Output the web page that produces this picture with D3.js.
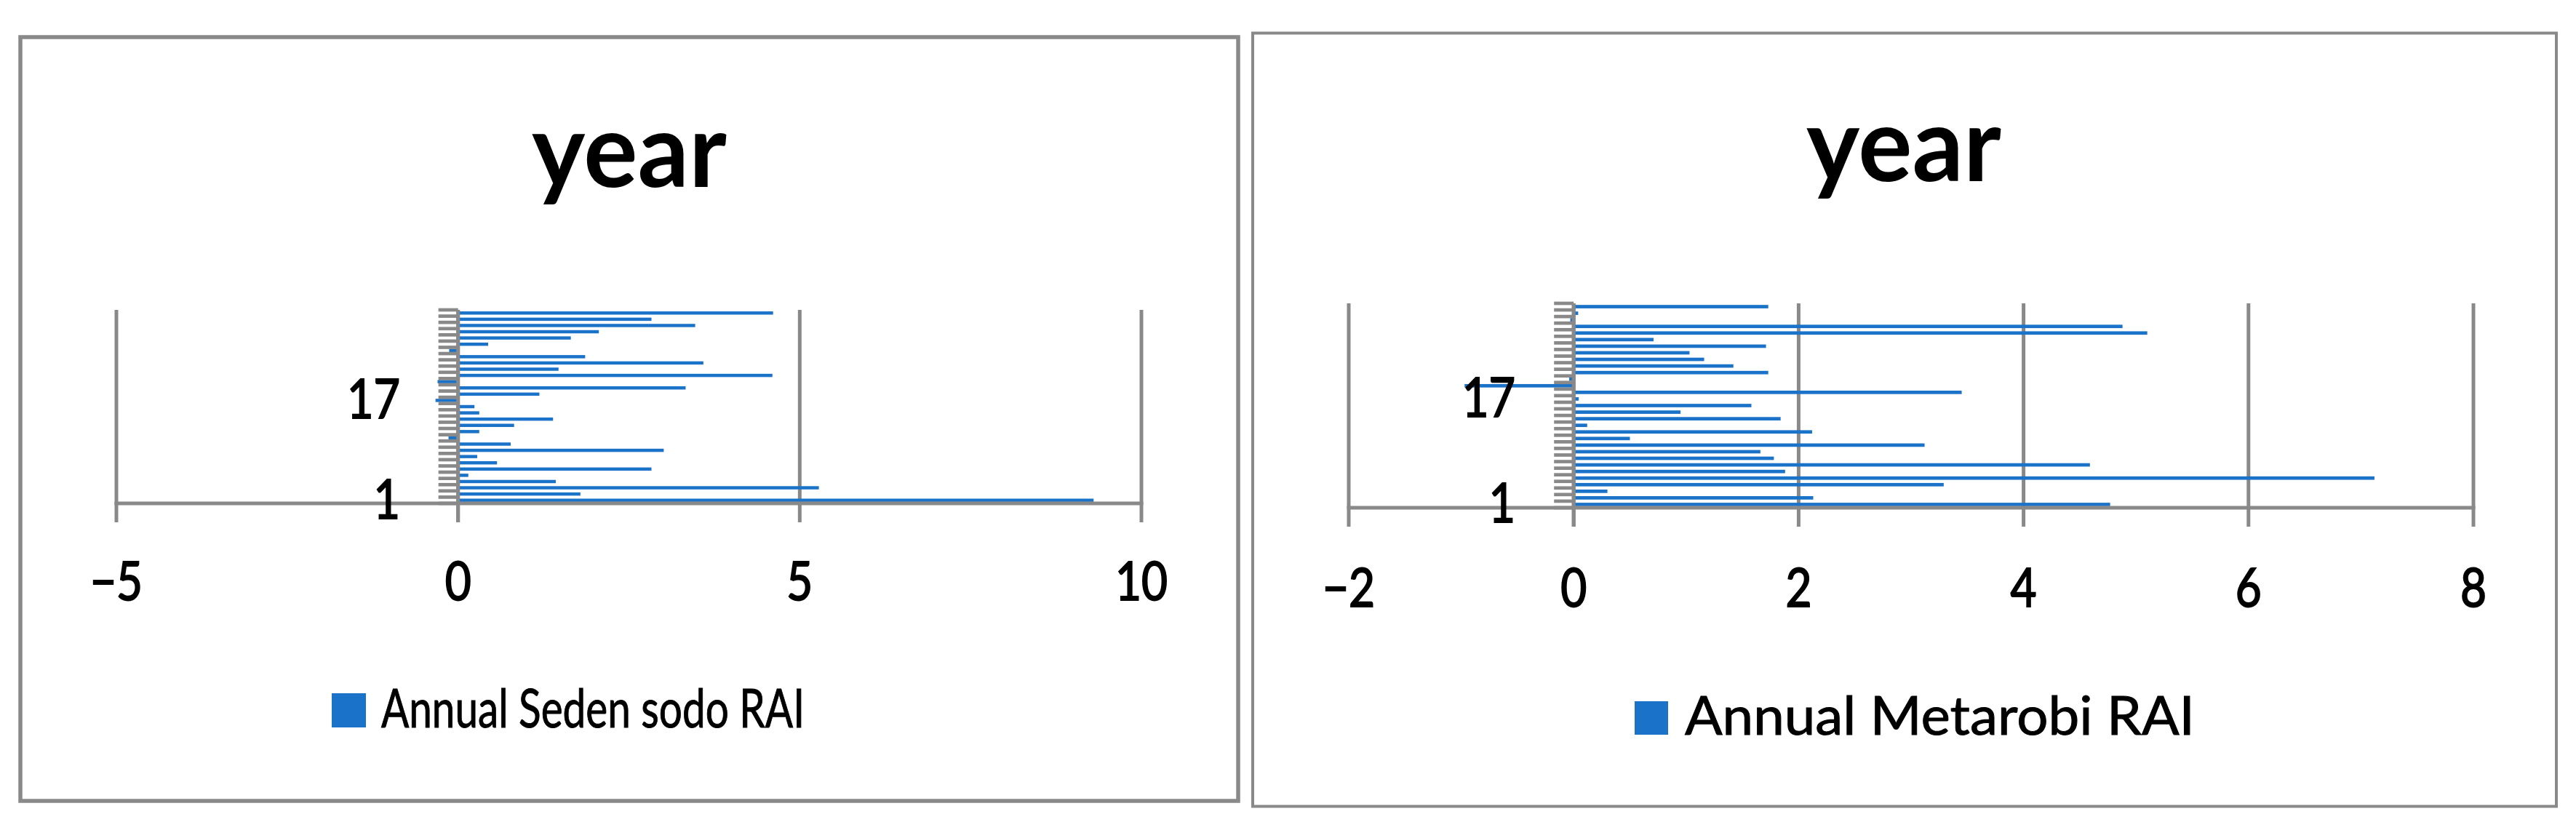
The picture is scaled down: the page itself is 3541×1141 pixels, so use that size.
<!DOCTYPE html>
<html>
<head>
<meta charset="utf-8">
<script src="https://cdn.jsdelivr.net/npm/d3@7"></script>
<style>
  body { margin: 0; background: #fff; }
  text { font-family: Lato, "Open Sans", "Liberation Sans", sans-serif; fill: #000; }
</style>
</head>
<body>
<div id="vis"></div>
<script>
// years 1..31, listed bottom to top on the category axis
var years = d3.range(1, 32);
var labeledYears = [1, 17];

var sedenSodoRAI = [9.30, 1.79, 5.28, 1.43, 0.15, 2.83, 0.57, 0.28, 3.01, 0.77,
  -0.14, 0.31, 0.82, 1.39, 0.31, 0.24, -0.33, 1.19, 3.33, -0.30,
  4.60, 1.47, 3.59, 1.86, -0.13, 0.44, 1.65, 2.06, 3.47, 2.83, 4.61];

var metarobiRAI = [4.77, 2.13, 0.30, 3.29, 7.12, 1.88, 4.59, 1.78, 1.66, 3.12,
  0.50, 2.12, 0.12, 1.84, 0.95, 1.58, 0.045, 3.45, -0.97, -0.04,
  1.73, 1.42, 1.16, 1.03, 1.71, 0.71, 5.10, 4.88, -0.03, 0.04, 1.73];

var sedenTicks = [-5, 0, 5, 10];
var metarobiTicks = [-2, 0, 2, 4, 6, 8];

var titleText = "year";
var sedenLegend = "Annual Seden sodo RAI";
var metarobiLegend = "Annual Metarobi RAI";

var grey = "#898989",
    blue = "#1a73c9";

var svg = d3.select("#vis")
  .append("svg")
    .attr("width", 3541)
    .attr("height", 1141);

svg.append("rect").attr("width", 3541).attr("height", 1141).attr("fill", "#fff");

var panels = [
  { values: sedenSodoRAI, ticks: sedenTicks, legend: sedenLegend,
    box: [28, 51, 1702, 1101], boxStroke: 5.5,
    left: 160, right: 1569, top: 426, bottom: 692,
    titleX: 865, titleY: 257,
    tickLabelY: 825, catLabelRight: 550,
    legX: 456, legY: 953, legSize: 47, legTextX: 524, legTextY: 1000, legTextLen: 582 },
  { values: metarobiRAI, ticks: metarobiTicks, legend: metarobiLegend,
    box: [1722, 45.5, 3514, 1108.5], boxStroke: 4,
    left: 1854, right: 3400, top: 417, bottom: 698,
    titleX: 2617, titleY: 249,
    tickLabelY: 834, catLabelRight: 2083,
    legX: 2247, legY: 964, legSize: 46, legTextX: 2316, legTextY: 1010, legTextLen: 701 }
];

panels.forEach(drawPanel);

function drawPanel(p) {
  var g = svg.append("g");
  var fmt = d3.format("");

  // outer frame
  g.append("rect")
    .attr("x", p.box[0]).attr("y", p.box[1])
    .attr("width", p.box[2] - p.box[0])
    .attr("height", p.box[3] - p.box[1])
    .attr("fill", "none")
    .attr("stroke", grey)
    .attr("stroke-width", p.boxStroke);

  var x = d3.scaleLinear()
    .domain(d3.extent(p.ticks))
    .range([p.left, p.right]);

  var y = d3.scaleBand()
    .domain(years)
    .range([p.bottom, p.top])
    .paddingInner(0.48)
    .paddingOuter(0.24);

  var bw = y.bandwidth(), step = y.step();

  // vertical gridlines (they run past the axis as tick marks)
  g.selectAll(".grid")
    .data(p.ticks)
    .enter().append("line")
      .attr("x1", d => x(d)).attr("x2", d => x(d))
      .attr("y1", p.top).attr("y2", p.bottom + 26)
      .attr("stroke", grey)
      .attr("stroke-width", 5);

  // bars
  g.selectAll(".bar")
    .data(p.values)
    .enter().append("rect")
      .attr("x", d => x(Math.min(0, d)))
      .attr("width", d => Math.abs(x(d) - x(0)))
      .attr("y", (d, i) => y(years[i]))
      .attr("height", bw)
      .attr("fill", blue);

  // category axis at zero
  g.append("line")
    .attr("x1", x(0)).attr("x2", x(0))
    .attr("y1", p.top).attr("y2", p.bottom + 26)
    .attr("stroke", grey)
    .attr("stroke-width", 5);

  // category tick marks between the years
  var bounds = years.map(yr => y(yr) + bw / 2 - step / 2);
  bounds.push(y(years[0]) + bw / 2 + step / 2);
  g.selectAll(".ctick")
    .data(bounds)
    .enter().append("line")
      .attr("x1", x(0) - 27).attr("x2", x(0))
      .attr("y1", d => d).attr("y2", d => d)
      .attr("stroke", grey)
      .attr("stroke-width", 4.7);

  // value axis line
  g.append("line")
    .attr("x1", x(p.ticks[0]) - 2.5).attr("x2", x(p.ticks[p.ticks.length - 1]) + 2.5)
    .attr("y1", p.bottom).attr("y2", p.bottom)
    .attr("stroke", grey)
    .attr("stroke-width", 5);

  // value tick labels
  g.selectAll(".xlab")
    .data(p.ticks)
    .enter().append("text")
      .attr("transform", d => "translate(" + x(d) + "," + p.tickLabelY + ") scale(0.84,1)")
      .attr("text-anchor", "middle")
      .attr("stroke", "#000")
      .attr("stroke-width", 2)
      .style("font-size", "74px")
      .text(d => fmt(d));

  // category labels
  g.selectAll(".ylab")
    .data(labeledYears)
    .enter().append("text")
      .attr("transform", d => "translate(" + p.catLabelRight + "," + (y(d) + bw / 2 + 25) + ") scale(0.84,1)")
      .attr("text-anchor", "end")
      .attr("stroke", "#000")
      .attr("stroke-width", 2)
      .style("font-size", "75px")
      .text(d => d);

  // title
  g.append("text")
    .attr("x", p.titleX).attr("y", p.titleY)
    .attr("text-anchor", "middle")
    .attr("textLength", 268)
    .attr("lengthAdjust", "spacingAndGlyphs")
    .style("font-size", "142px")
    .style("font-weight", "bold")
    .text(titleText);

  // legend
  g.append("rect")
    .attr("x", p.legX).attr("y", p.legY)
    .attr("width", p.legSize).attr("height", p.legSize)
    .attr("fill", blue);
  g.append("text")
    .attr("x", p.legTextX).attr("y", p.legTextY)
    .attr("textLength", p.legTextLen)
    .attr("lengthAdjust", "spacingAndGlyphs")
    .attr("stroke", "#000")
    .attr("stroke-width", 1)
    .style("font-size", "74px")
    .text(p.legend);
}
</script>
</body>
</html>
